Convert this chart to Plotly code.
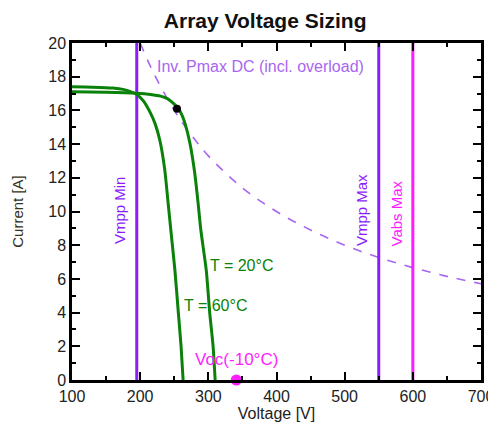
import plotly.graph_objects as go

# T = 60°C I-V curve
v60 = [100, 130, 160, 175, 185, 195, 205, 215, 222, 229, 236, 241, 245, 251, 256, 260, 263]
i60 = [17.4, 17.38, 17.33, 17.25, 17.12, 16.95, 16.55, 15.85, 15.2, 14.2, 12.5, 10.5, 8.9, 6.5, 4.0, 2.0, 0.0]

# T = 20°C I-V curve
v20 = [100, 150, 195, 215, 230, 240, 248, 255, 261, 266, 273, 280, 285, 289, 297, 302, 307, 310]
i20 = [17.1, 17.08, 17.02, 16.95, 16.85, 16.7, 16.45, 16.16, 15.75, 15.2, 14.05, 12.3, 10.5, 8.9, 6.5, 4.0, 2.0, 0.0]

# Inverter Pmax DC limit (dashed)
vp = [200, 220, 250, 275, 300, 350, 400, 450, 500, 550, 600, 650, 700]
ip = [20.0, 18.2, 16.0, 14.55, 13.3, 11.4, 10.0, 8.9, 8.0, 7.27, 6.67, 6.15, 5.71]

# MPP point and Voc(-10°C)
mpp_v, mpp_i = [254], [16.1]
voc_v, voc_i = [341], [0]

# Voltage limits
vmpp_min, vmpp_max, vabs_max = 195, 550, 600

xticks = [100, 200, 300, 400, 500, 600, 700]
yticks = [0, 2, 4, 6, 8, 10, 12, 14, 16, 18, 20]

GREEN = "#0a820a"
VIOLET = "#8a1cff"
MAG = "#ff1cff"
DASH = "#a866f0"

fig = go.Figure()
fig.add_trace(go.Scatter(x=vp, y=ip, mode="lines", line=dict(color=DASH, width=1.6, dash="dash", shape="spline")))
fig.add_trace(go.Scatter(x=[vmpp_min, vmpp_min], y=[0, 20], mode="lines", line=dict(color=VIOLET, width=3)))
fig.add_trace(go.Scatter(x=[vmpp_max, vmpp_max], y=[0, 20], mode="lines", line=dict(color=VIOLET, width=3)))
fig.add_trace(go.Scatter(x=[vabs_max, vabs_max], y=[0, 20], mode="lines", line=dict(color=MAG, width=3)))
fig.add_trace(go.Scatter(x=v60, y=i60, mode="lines", line=dict(color=GREEN, width=3, shape="spline", smoothing=0.6)))
fig.add_trace(go.Scatter(x=v20, y=i20, mode="lines", line=dict(color=GREEN, width=3, shape="spline", smoothing=0.6)))
fig.add_trace(go.Scatter(x=mpp_v, y=mpp_i, mode="markers", marker=dict(color="black", size=8)))
fig.add_trace(go.Scatter(x=voc_v, y=voc_i, mode="markers", marker=dict(color=MAG, size=11), cliponaxis=False))

font = "Liberation Sans, Arial, sans-serif"
narrow = "Liberation Sans Narrow, Arial Narrow, Liberation Sans, sans-serif"
ann = [
    dict(x=222, y=18.6, text="Inv. Pmax DC (incl. overload)", font=dict(color=DASH, size=16), xanchor="left", yanchor="middle"),
    dict(x=vmpp_min, y=10.1, text="Vmpp Min", textangle=-90, font=dict(color=VIOLET, size=15, family=narrow), xanchor="right", yanchor="middle", xshift=-6),
    dict(x=vmpp_max, y=10.1, text="Vmpp Max", textangle=-90, font=dict(color=VIOLET, size=15, family=narrow), xanchor="right", yanchor="middle", xshift=-6),
    dict(x=vabs_max, y=9.9, text="Vabs Max", textangle=-90, font=dict(color=MAG, size=15, family=narrow), xanchor="right", yanchor="middle", xshift=-6),
    dict(x=349, y=6.8, text="T = 20°C", font=dict(color=GREEN, size=16), xanchor="center", yanchor="middle"),
    dict(x=310, y=4.4, text="T = 60°C", font=dict(color=GREEN, size=16), xanchor="center", yanchor="middle"),
    dict(x=342, y=1.2, text="Voc(-10°C)", font=dict(color=MAG, size=17), xanchor="center", yanchor="middle"),
]
for a in ann:
    a.update(xref="x", yref="y", showarrow=False)

axis_common = dict(showline=True, linewidth=2.5, linecolor="black", mirror="ticks", ticks="inside",
                   ticklen=8, tickwidth=1.5, tickcolor="black", showgrid=False, zeroline=False,
                   automargin=False, tickfont=dict(size=16, color="#222", family=font))

fig.update_layout(
    width=488, height=420,
    margin=dict(l=64, r=15, t=35, b=48),
    paper_bgcolor="white", plot_bgcolor="white",
    showlegend=False,
    font=dict(family=font),
    title=dict(text="<b>Array Voltage Sizing</b>", x=0.527, xanchor="center", y=0.971, yanchor="middle",
               font=dict(size=21, color="#111")),
    xaxis=dict(range=[100, 700], tickvals=xticks, title=dict(text="Voltage [V]", font=dict(size=16, color="#222"), standoff=1),
               minor=dict(dtick=50, ticks="inside", ticklen=4, tickcolor="black", tickwidth=1.5), **axis_common),
    yaxis=dict(range=[0, 20], tickvals=yticks, title=dict(text="Current [A]", font=dict(size=15, color="#332", family=narrow), standoff=22),
               minor=dict(dtick=1, ticks="inside", ticklen=4, tickcolor="black", tickwidth=1.5), **axis_common),
    annotations=ann,
)
fig.write_html("out.html")
